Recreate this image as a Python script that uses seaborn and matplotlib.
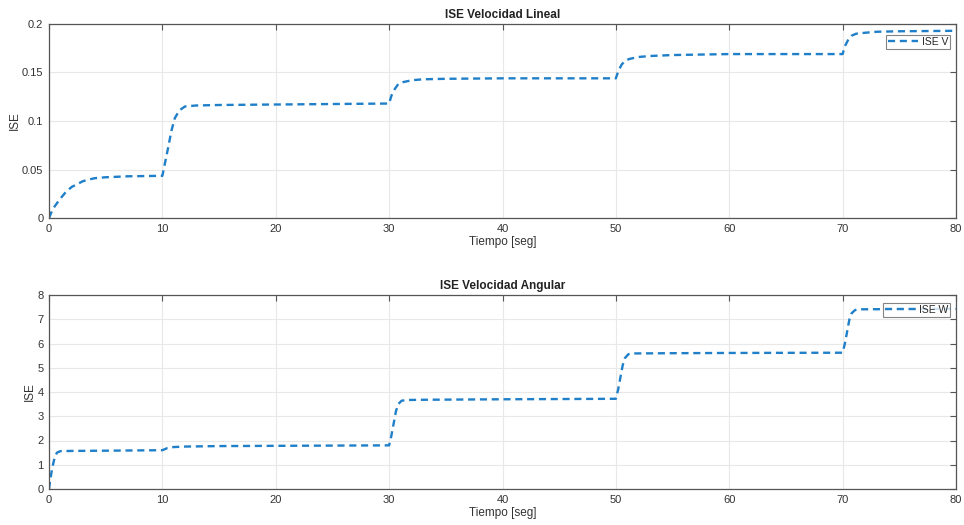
import matplotlib
matplotlib.use("Agg")
import matplotlib.pyplot as plt
import seaborn as sns
import pandas as pd

sns.set_style("white")
plt.rcParams["font.family"] = ["Liberation Sans", "DejaVu Sans"]

# Linear velocity ISE
t_v = [0, 0.25, 0.5, 1, 1.5, 2, 2.5, 3, 4, 5, 7, 10, 10.2, 10.5, 10.8, 11.1, 11.5, 12, 13, 15, 20, 30,
       30.2, 30.5, 30.8, 31.2, 32, 33, 35, 40, 50, 50.2, 50.5, 50.8, 51.2, 52, 53, 55, 60, 70,
       70.2, 70.5, 70.8, 71.2, 72, 73, 75, 80]
ise_v = [0, 0.007, 0.012, 0.02, 0.027, 0.032, 0.035, 0.038, 0.041, 0.042, 0.043, 0.0435, 0.055, 0.072,
         0.09, 0.103, 0.111, 0.115, 0.116, 0.1165, 0.117, 0.118,
         0.126, 0.133, 0.138, 0.140, 0.142, 0.143, 0.1435, 0.144, 0.144,
         0.151, 0.158, 0.162, 0.164, 0.166, 0.167, 0.168, 0.169, 0.169,
         0.177, 0.184, 0.188, 0.190, 0.191, 0.192, 0.1925, 0.193]

# Angular velocity ISE
t_w = [0, 0.15, 0.3, 0.5, 0.7, 1, 2, 5, 10, 10.4, 11, 12, 15, 20, 30,
       30.2, 30.4, 30.6, 30.8, 31.1, 31.5, 33, 40, 50,
       50.2, 50.4, 50.6, 50.8, 51.1, 51.5, 55, 60, 70,
       70.2, 70.4, 70.6, 70.8, 71.1, 71.5, 75, 80]
ise_w = [0, 0.5, 0.9, 1.3, 1.5, 1.56, 1.57, 1.58, 1.6, 1.68, 1.73, 1.75, 1.77, 1.78, 1.8,
         2.2, 2.7, 3.2, 3.5, 3.64, 3.67, 3.68, 3.7, 3.72,
         4.1, 4.6, 5.1, 5.4, 5.56, 5.59, 5.6, 5.61, 5.62,
         6.0, 6.5, 7.0, 7.25, 7.38, 7.41, 7.42, 7.43]

df_v = pd.DataFrame({"t": t_v, "ise": ise_v})
df_w = pd.DataFrame({"t": t_w, "ise": ise_w})

line_color = "#1f7fc8"
axis_color = "#555555"

W, H = 964, 525
left, width, height = 49, 907, 194
fig = plt.figure(figsize=(W / 100, H / 100), dpi=100)
ax1 = fig.add_axes([left / W, 1 - 218 / H, width / W, height / H])
ax2 = fig.add_axes([left / W, 1 - 489 / H, width / W, height / H])

panels = [
    (ax1, df_v, "ISE V", "ISE Velocidad Lineal", (0, 0.2), [0, 0.05, 0.1, 0.15, 0.2],
     ["0", "0.05", "0.1", "0.15", "0.2"], 11, 21),
    (ax2, df_w, "ISE W", "ISE Velocidad Angular", (0, 8), list(range(0, 9)),
     [str(i) for i in range(0, 9)], 8, 36),
]

for ax, df, lab, title, ylim, yt, ytl, top_gap, ylab_x in panels:
    sns.lineplot(data=df, x="t", y="ise", ax=ax, color=line_color, linewidth=1.7,
                 linestyle=(0, (3.0, 2.0)), label=lab)
    ax.set_xlim(0, 80)
    ax.set_ylim(*ylim)
    ax.set_xticks(range(0, 81, 10))
    ax.set_yticks(yt)
    ax.set_yticklabels(ytl)
    ax.grid(True, color="#e8e8e8", linewidth=0.8)
    ax.tick_params(direction="in", length=4, colors=axis_color, labelcolor="#333333",
                   labelsize=8, top=True, right=True, pad=4)
    for s in ax.spines.values():
        s.set_color(axis_color)
        s.set_linewidth(0.9)
    ax.set_xlabel("Tiempo [seg]", fontsize=8.5, color="#333333", labelpad=2)
    ax.set_ylabel("ISE", fontsize=8.5, color="#333333")
    ax.yaxis.set_label_coords((ylab_x - left) / width, 0.5)
    ax.set_title(title, fontsize=8.5, fontweight="bold", color="#222222", pad=4)
    leg = ax.legend(loc="upper right", bbox_to_anchor=(1 - 6 / width, 1 - top_gap / height),
                    borderaxespad=0, fontsize=7.5, frameon=True, fancybox=False,
                    edgecolor="#666666", handlelength=2.9, handletextpad=0.3,
                    borderpad=0.2)
    leg.get_frame().set_linewidth(0.8)

fig.savefig("out.png", dpi=100, facecolor="white")
